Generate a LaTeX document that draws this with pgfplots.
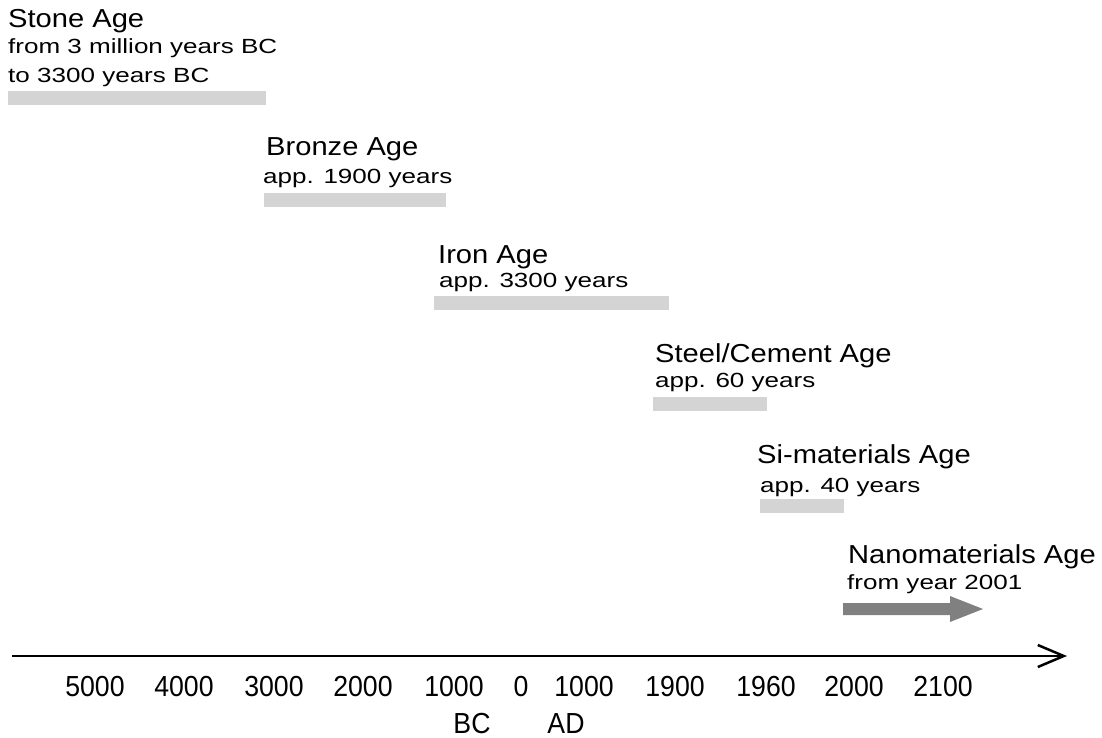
\documentclass[border=0pt]{standalone}
\usepackage{pgfplots}
\pgfplotsset{compat=1.18}
\usepackage{graphicx}
\usepackage{fontspec}
\setmainfont{Liberation Sans}
\usetikzlibrary{arrows.meta}
\definecolor{barGray}{HTML}{D4D4D4}
\definecolor{nanoGray}{HTML}{808080}
\newcommand\ttl[1]{\scalebox{1.12}[1]{\fontsize{26}{30}\selectfont #1}}
\newcommand\sub[1]{\scalebox{1.27}[1]{\fontsize{20.5}{24}\selectfont #1}}
\newcommand\tck[1]{\scalebox{0.92}[1]{\fontsize{29}{33}\selectfont #1}}
\begin{document}
\begin{tikzpicture}
\begin{axis}[
  scale only axis, width=1102pt, height=738pt,
  xmin=0, xmax=1102, ymin=0, ymax=738, y dir=reverse,
  hide axis, clip=false,
]
% timeline
\addplot[black, line width=2.3pt, -{Straight Barb[length=26pt,width=22pt,line width=2.5pt]}]
  coordinates {(12,656) (1067,656)};
% age bars
\addplot[fill=barGray, draw=none] coordinates {(8,91) (266,91) (266,105) (8,105)} -- cycle;
\addplot[fill=barGray, draw=none] coordinates {(264,193) (446,193) (446,207) (264,207)} -- cycle;
\addplot[fill=barGray, draw=none] coordinates {(434,296) (669,296) (669,310) (434,310)} -- cycle;
\addplot[fill=barGray, draw=none] coordinates {(653,397) (767,397) (767,411) (653,411)} -- cycle;
\addplot[fill=barGray, draw=none] coordinates {(760,499) (844,499) (844,513) (760,513)} -- cycle;
\addplot[fill=nanoGray, draw=none] coordinates {(843,603) (950,603) (950,596) (983,609) (950,622) (950,615) (843,615)} -- cycle;
% labels
\node[anchor=base west, inner sep=0] at (axis cs:8,28) {\ttl{Stone Age}};
\node[anchor=base west, inner sep=0] at (axis cs:8,54) {\sub{from 3 million years BC}};
\node[anchor=base west, inner sep=0] at (axis cs:8,83) {\sub{to 3300 years BC}};
\node[anchor=base west, inner sep=0] at (axis cs:266,156) {\ttl{Bronze Age}};
\node[anchor=base west, inner sep=0] at (axis cs:263,183) {\sub{app. 1900 years}};
\node[anchor=base west, inner sep=0] at (axis cs:438,263) {\ttl{Iron Age}};
\node[anchor=base west, inner sep=0] at (axis cs:439,287) {\sub{app. 3300 years}};
\node[anchor=base west, inner sep=0] at (axis cs:655,362) {\ttl{Steel/Cement Age}};
\node[anchor=base west, inner sep=0] at (axis cs:655,387) {\sub{app. 60 years}};
\node[anchor=base west, inner sep=0] at (axis cs:757,463) {\ttl{Si-materials Age}};
\node[anchor=base west, inner sep=0] at (axis cs:760,492) {\sub{app. 40 years}};
\node[anchor=base west, inner sep=0] at (axis cs:848,563) {\ttl{Nanomaterials Age}};
\node[anchor=base west, inner sep=0] at (axis cs:847,589) {\sub{from year 2001}};
% tick labels
\node[anchor=base, inner sep=0] at (axis cs:95,696) {\tck{5000}};
\node[anchor=base, inner sep=0] at (axis cs:184,696) {\tck{4000}};
\node[anchor=base, inner sep=0] at (axis cs:274,696) {\tck{3000}};
\node[anchor=base, inner sep=0] at (axis cs:363,696) {\tck{2000}};
\node[anchor=base, inner sep=0] at (axis cs:454,696) {\tck{1000}};
\node[anchor=base, inner sep=0] at (axis cs:521,696) {\tck{0}};
\node[anchor=base, inner sep=0] at (axis cs:584,696) {\tck{1000}};
\node[anchor=base, inner sep=0] at (axis cs:675,696) {\tck{1900}};
\node[anchor=base, inner sep=0] at (axis cs:766,696) {\tck{1960}};
\node[anchor=base, inner sep=0] at (axis cs:854,696) {\tck{2000}};
\node[anchor=base, inner sep=0] at (axis cs:943,696) {\tck{2100}};
\node[anchor=base, inner sep=0] at (axis cs:472,733) {\tck{BC}};
\node[anchor=base, inner sep=0] at (axis cs:566,733) {\tck{AD}};
\end{axis}
\pgfresetboundingbox
\useasboundingbox (current axis.south west) rectangle (current axis.north east);
\end{tikzpicture}
\end{document}
